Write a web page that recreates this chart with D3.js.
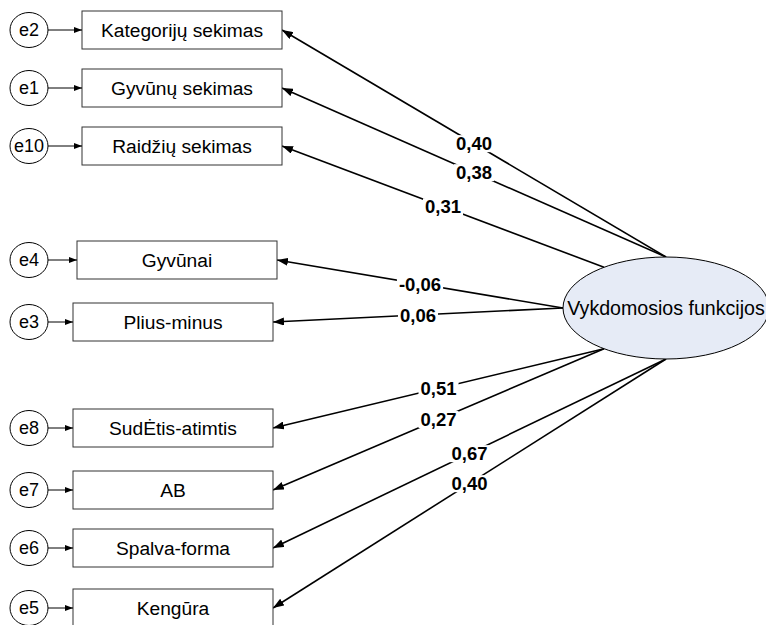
<!DOCTYPE html>
<html lang="lt">
<head>
<meta charset="UTF-8">
<title>Vykdomosios funkcijos</title>
<script src="https://d3js.org/d3.v7.min.js"></script>
<style>
  body { margin: 0; background: #fff; }
  text { font-family: Arial, "Liberation Sans", sans-serif; }
</style>
</head>
<body>
<script>
// model data
const factor = "Vykdomosios funkcijos";
const indicators = ["Kategorijų sekimas", "Gyvūnų sekimas", "Raidžių sekimas", "Gyvūnai",
  "Plius-minus", "SudĖtis-atimtis", "AB", "Spalva-forma", "Kengūra"];
const errors = ["e2", "e1", "e10", "e4", "e3", "e8", "e7", "e6", "e5"];
const loadings = [0.40, 0.38, 0.31, -0.06, 0.06, 0.51, 0.27, 0.67, 0.40];

// layout (pixels / degrees)
const width = 766, height = 625;
const rowTop = [11, 69, 127, 241, 303, 409, 471, 529, 589];
const boxLeft = [82, 82, 82, 77, 73, 73, 73, 73, 73];
const anchorDeg = [-90, -90, -127, 180, 180, 127, 127, 90, 90];
const boxW = 200, boxH = 38;
const ell = {cx: 666, cy: 308, rx: 103, ry: 51};

const yTop = d3.scaleOrdinal().domain(indicators).range(rowTop);
const xLeft = d3.scaleOrdinal().domain(indicators).range(boxLeft);
const fmt = v => d3.format(".2f")(v).replace("\u2212", "-").replace(".", ",");

const svg = d3.select("body").append("svg")
  .attr("width", width).attr("height", height);

const defs = svg.append("defs");
defs.append("marker").attr("id", "big")
  .attr("markerUnits", "userSpaceOnUse")
  .attr("viewBox", "0 0 11 8").attr("refX", 11).attr("refY", 4)
  .attr("markerWidth", 11).attr("markerHeight", 8).attr("orient", "auto")
  .append("path").attr("d", "M0,0L11,4L0,8Z").attr("fill", "#000");
defs.append("marker").attr("id", "small")
  .attr("markerUnits", "userSpaceOnUse")
  .attr("viewBox", "0 0 8 6").attr("refX", 8).attr("refY", 3)
  .attr("markerWidth", 8).attr("markerHeight", 6).attr("orient", "auto")
  .append("path").attr("d", "M0,0L8,3L0,6Z").attr("fill", "#000");

const rows = indicators.map((name, i) => {
  const a = anchorDeg[i] * Math.PI / 180;
  return {
    name, err: errors[i], value: loadings[i],
    x0: ell.cx + ell.rx * Math.cos(a), y0: ell.cy + ell.ry * Math.sin(a),
    x1: xLeft(name) + boxW, y1: yTop(name) + boxH / 2
  };
});

// factor loadings
svg.append("g").selectAll("line").data(rows).join("line")
  .attr("x1", d => d.x0).attr("y1", d => d.y0)
  .attr("x2", d => d.x1).attr("y2", d => d.y1)
  .attr("stroke", "#000").attr("stroke-width", 1.6)
  .attr("marker-end", "url(#big)");

// latent factor
svg.append("ellipse")
  .attr("cx", ell.cx).attr("cy", ell.cy).attr("rx", ell.rx).attr("ry", ell.ry)
  .attr("fill", "#e6ebf6").attr("stroke", "#000").attr("stroke-width", 1);
svg.append("text")
  .attr("x", ell.cx).attr("y", ell.cy).attr("dy", "0.36em")
  .attr("text-anchor", "middle").attr("font-size", 19.6).attr("fill", "#000")
  .text(factor);

// observed variables
const box = svg.append("g").selectAll("g").data(rows).join("g");
box.append("rect")
  .attr("x", d => xLeft(d.name)).attr("y", d => yTop(d.name))
  .attr("width", boxW).attr("height", boxH)
  .attr("fill", "#fff").attr("stroke", "#333").attr("stroke-width", 1);
box.append("text")
  .attr("x", d => xLeft(d.name) + boxW / 2).attr("y", d => yTop(d.name) + boxH / 2)
  .attr("dy", "0.36em").attr("text-anchor", "middle")
  .attr("font-size", 19.2).attr("fill", "#000")
  .text(d => d.name);

// error terms
const ex = 29, erx = 19, ery = 17.5;
box.append("line")
  .attr("x1", ex + erx).attr("y1", d => yTop(d.name) + boxH / 2)
  .attr("x2", d => xLeft(d.name)).attr("y2", d => yTop(d.name) + boxH / 2)
  .attr("stroke", "#000").attr("stroke-width", 1)
  .attr("marker-end", "url(#small)");
box.append("ellipse")
  .attr("cx", ex).attr("cy", d => yTop(d.name) + boxH / 2)
  .attr("rx", erx).attr("ry", ery)
  .attr("fill", "#fff").attr("stroke", "#000").attr("stroke-width", 1);
box.append("text")
  .attr("x", ex).attr("y", d => yTop(d.name) + boxH / 2)
  .attr("dy", "0.36em").attr("text-anchor", "middle")
  .attr("font-size", 18).attr("fill", "#000")
  .text(d => d.err);

// coefficient labels at path midpoints
const lab = svg.append("g").selectAll("g").data(rows).join("g")
  .attr("transform", d => `translate(${(d.x0 + d.x1) / 2},${(d.y0 + d.y1) / 2})`);
lab.append("rect").attr("fill", "#fff");
lab.append("text")
  .attr("dy", "0.36em").attr("text-anchor", "middle")
  .attr("font-size", 18.5).attr("font-weight", "bold").attr("fill", "#000")
  .text(d => fmt(d.value));
lab.each(function() {
  const g = d3.select(this);
  const b = g.select("text").node().getBBox();
  g.select("rect").attr("x", b.x - 2).attr("y", b.y + 2)
    .attr("width", b.width + 4).attr("height", b.height - 4);
});
</script>
</body>
</html>
